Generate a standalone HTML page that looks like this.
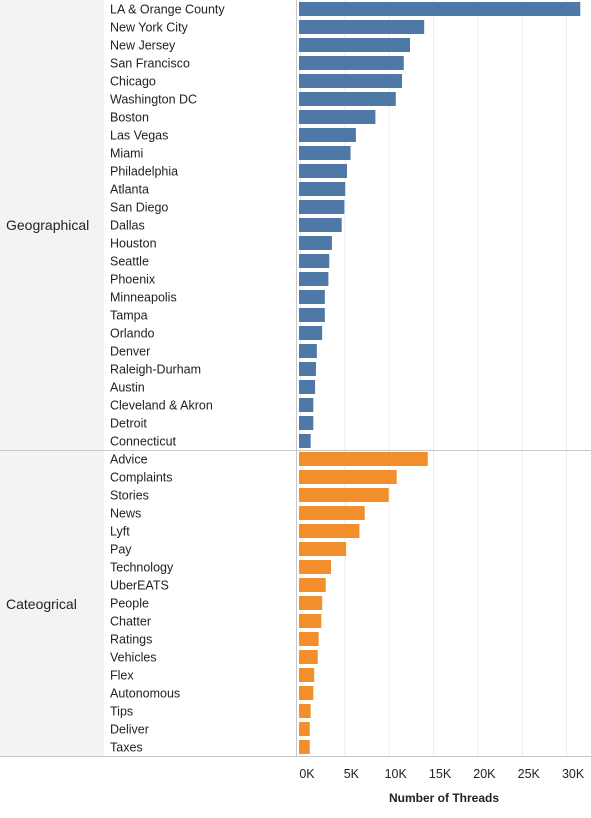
<!DOCTYPE html>
<html><head><meta charset="utf-8"><style>
body{margin:0;background:#fff;font-family:"Liberation Sans",sans-serif;}
svg text{font-family:"Liberation Sans",sans-serif;}
</style></head><body>
<svg id="chart" width="591" height="813" xmlns="http://www.w3.org/2000/svg">
<rect x="0" y="0" width="104" height="450" fill="#f3f3f3"/>
<rect x="0" y="450" width="104" height="306" fill="#f3f3f3"/>
<g id="grid"></g>
<g id="bars"></g>
<g id="labels"></g>
<line x1="0" x2="591" y1="450.5" y2="450.5" stroke="#c8c8c8"/>
<line x1="0" x2="591" y1="756.5" y2="756.5" stroke="#c8c8c8"/>
<line x1="296.5" x2="296.5" y1="0" y2="756" stroke="#c8c8c8"/>
<text x="6" y="230" font-size="14" fill="#222">Geographical</text>
<text x="6" y="609" font-size="14" fill="#222">Cateogrical</text>
<text x="444" y="802" font-size="12" font-weight="bold" text-anchor="middle" fill="#222">Number of Threads</text>
</svg>
<script>
const geoCategories=["LA & Orange County","New York City","New Jersey","San Francisco","Chicago","Washington DC","Boston","Las Vegas","Miami","Philadelphia","Atlanta","San Diego","Dallas","Houston","Seattle","Phoenix","Minneapolis","Tampa","Orlando","Denver","Raleigh-Durham","Austin","Cleveland & Akron","Detroit","Connecticut"];
const geoValues=[31.6,14.0,12.4,11.7,11.5,10.8,8.5,6.3,5.7,5.3,5.1,5.0,4.7,3.6,3.3,3.2,2.8,2.8,2.5,1.9,1.8,1.7,1.5,1.5,1.2];
const catCategories=["Advice","Complaints","Stories","News","Lyft","Pay","Technology","UberEATS","People","Chatter","Ratings","Vehicles","Flex","Autonomous","Tips","Deliver","Taxes"];
const catValues=[14.4,10.9,10.0,7.3,6.7,5.2,3.5,2.9,2.5,2.4,2.1,2.0,1.6,1.5,1.2,1.1,1.1];
const tickValues=[0,5,10,15,20,25,30];
const tickLabels=["0K","5K","10K","15K","20K","25K","30K"];
const NS="http://www.w3.org/2000/svg";
const x=v=>300+v*8.87;
const y=i=>9+18*i;
function mk(tag,attrs,parent){const e=document.createElementNS(NS,tag);for(const k in attrs)e.setAttribute(k,attrs[k]);document.getElementById(parent).appendChild(e);return e;}
tickValues.forEach((t,i)=>{
  const g=mk('line',{x1:x(t)+.5,x2:x(t)+.5,y1:0,y2:756,stroke:'#ececec'},'grid');
  
  
  const tl=mk('text',{x:x(t)+7,y:778,'font-size':12.5,'text-anchor':'middle',fill:'#222'},'labels');
  tl.textContent=tickLabels[i];
  
  
});
function draw(cats,vals,offset,color){
  cats.forEach((c,i)=>{
    const r=mk('rect',{x:x(0)-1,y:y(i+offset)-7,width:x(vals[i])-x(0)+1,height:14,fill:color},'bars');
    
    
    const t=mk('text',{x:110,y:y(i+offset)+4.5,'font-size':12.5,fill:'#222'},'labels');
    t.textContent=c;
    
    
  });
}
draw(geoCategories,geoValues,0,'#4e79a7');
draw(catCategories,catValues,geoCategories.length,'#f28e2b');
</script>
</body></html>
